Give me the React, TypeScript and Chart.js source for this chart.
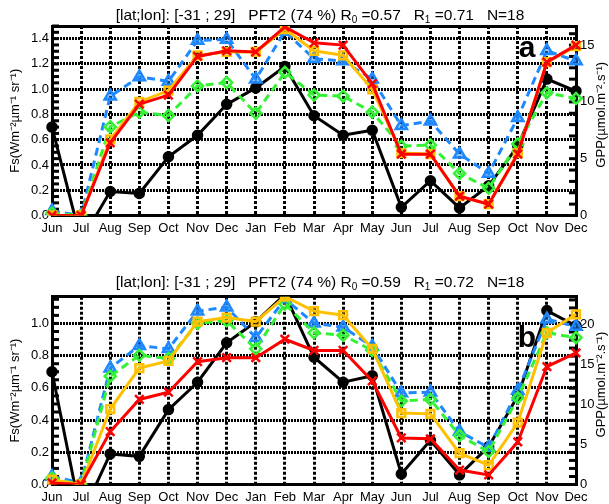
import React, { useEffect, useRef } from "react";
import { Chart, registerables } from "chart.js";

Chart.register(...registerables);

const FONT = "'Liberation Sans', Arial, Helvetica, sans-serif";
Chart.defaults.font.family = FONT;
Chart.defaults.color = "#000";

// ---------- data ----------
const months = ["Jun", "Jul", "Aug", "Sep", "Oct", "Nov", "Dec", "Jan", "Feb", "Mar", "Apr", "May", "Jun", "Jul", "Aug", "Sep", "Oct", "Nov", "Dec"];

// observed Fs (left axis), same in both panels
const fsObserved = [0.70, -0.20, 0.19, 0.175, 0.465, 0.635, 0.88, 1.01, 1.18, 0.79, 0.635, 0.675, 0.065, 0.275, 0.06, 0.235, 0.55, 1.08, 0.985];

// panel a, GPP (right axis)
const statsA = ["0.57", "0.71"];
const gppBlueA = [0.4, 0.0, 10.5, 12.2, 11.8, 15.4, 15.5, 12.0, 16.2, 13.8, 13.6, 12.0, 7.9, 8.3, 5.4, 3.7, 8.6, 14.5, 13.6];
const gppGreenA = [0.2, 0.0, 7.8, 9.1, 8.8, 11.4, 11.7, 9.0, 12.6, 10.6, 10.5, 9.1, 6.1, 6.2, 3.7, 2.4, 6.3, 10.8, 10.3];
const gppOrangeA = [0.0, 0.0, 6.7, 10.0, 11.0, 14.1, 14.4, 14.4, 16.4, 14.5, 14.1, 11.1, 5.5, 5.4, 1.7, 1.0, 5.5, 13.5, 14.9];
const gppRedA = [0.0, 0.0, 6.4, 9.8, 10.6, 14.0, 14.5, 14.4, 16.6, 15.2, 15.0, 11.6, 5.4, 5.4, 1.7, 1.0, 5.4, 13.5, 15.0];

// panel b, GPP (right axis)
const statsB = ["0.59", "0.72"];
const gppBlueB = [1.0, 0.2, 14.5, 17.3, 16.9, 21.6, 22.1, 18.3, 23.1, 20.1, 19.6, 17.2, 11.4, 11.5, 6.6, 4.6, 11.7, 20.6, 19.7];
const gppGreenB = [0.8, 0.0, 13.5, 16.1, 15.7, 20.1, 20.4, 16.9, 22.5, 18.9, 18.6, 16.7, 10.4, 10.6, 6.1, 4.1, 10.8, 18.9, 18.3];
const gppOrangeB = [0.6, 0.0, 9.4, 14.5, 15.4, 20.3, 20.8, 20.3, 23.4, 21.6, 21.1, 16.9, 8.9, 8.8, 3.9, 2.4, 7.7, 18.9, 21.2];
const gppRedB = [0.2, 0.0, 6.6, 10.6, 11.5, 15.3, 15.8, 15.8, 18.1, 16.7, 16.7, 12.9, 5.8, 5.7, 1.8, 1.2, 5.3, 14.7, 16.4];

const leftTitle = "Fs(Wm\u207B\u00B2\u00B5m\u207B\u00B9 sr\u207B\u00B9)";
const rightTitle = "GPP(\u00B5mol.m\u207B\u00B2.s\u207B\u00B9)";

// ---------- styling ----------
const BLACK = "#000000";
const BLUE = "#1E88FF";
const GREEN = "#33F233";
const ORANGE = "#FFC000";
const RED = "#FF0000";

const CANVAS_W = 609;
const CANVAS_H = 252;

// title pieces: [text, isSubscript]
function titleParts(stats: string[]): [string, boolean][] {
  return [
    ["[lat;lon]: [-31 ; 29]   PFT2 (74 %) R", false],
    ["0", true],
    [" =" + stats[0] + "   R", false],
    ["1", true],
    [" =" + stats[1] + "   N=18", false],
  ];
}

const decorPlugin = {
  id: "decor",
  beforeDatasetsDraw(chart: any, _a: any, opts: any) {
    const { ctx, chartArea: ca, scales } = chart;
    ctx.save();
    ctx.strokeStyle = "#000";
    ctx.lineWidth = 3;
    const y = scales.y;
    for (let v = 0; v <= y.max + 1e-9; v += opts.leftMinor) {
      const py = y.getPixelForValue(v);
      ctx.beginPath();
      ctx.moveTo(ca.left, py);
      ctx.lineTo(ca.left + 7, py);
      ctx.stroke();
    }
    const y1 = scales.y1;
    for (let v = 0; v <= y1.max + 1e-9; v += opts.rightMinor) {
      const py = y1.getPixelForValue(v);
      ctx.beginPath();
      ctx.moveTo(ca.right, py);
      ctx.lineTo(ca.right - 7, py);
      ctx.stroke();
    }
    ctx.restore();
  },
  afterDraw(chart: any, _a: any, opts: any) {
    const { ctx, chartArea: ca } = chart;
    ctx.save();
    ctx.fillStyle = "#000";
    // panel letter
    ctx.font = `bold 30px ${FONT}`;
    ctx.textAlign = "center";
    ctx.textBaseline = "alphabetic";
    ctx.fillText(opts.letter, ca.right - 49, ca.top + opts.letterDy);
    // title with subscripts
    const parts: [string, boolean][] = opts.titleParts;
    const big = `15.5px ${FONT}`;
    const small = `10px ${FONT}`;
    let total = 0;
    for (const [t, sub] of parts) {
      ctx.font = sub ? small : big;
      total += ctx.measureText(t).width;
    }
    let x = (ca.left + ca.right) / 2 - total / 2 + 6;
    ctx.textAlign = "left";
    for (const [t, sub] of parts) {
      ctx.font = sub ? small : big;
      ctx.fillText(t, x, opts.titleBase + (sub ? 3 : 0));
      x += ctx.measureText(t).width;
    }
    // right axis title
    ctx.font = `13px ${FONT}`;
    ctx.textAlign = "center";
    ctx.textBaseline = "middle";
    ctx.translate(601, (ca.top + ca.bottom) / 2 - 6);
    ctx.rotate(-Math.PI / 2);
    ctx.fillText(rightTitle, 0, 0);
    ctx.restore();
  },
};

function lineDs(label: string, data: number[], color: string, yAxisID: string, pointStyle: string, radius: number, dashed: boolean, fill: string) {
  return {
    label,
    data,
    yAxisID,
    borderColor: color,
    backgroundColor: fill,
    pointBackgroundColor: fill,
    pointBorderColor: color,
    borderWidth: 3,
    pointBorderWidth: 2.5,
    pointStyle,
    pointRadius: radius,
    borderDash: dashed ? [8, 5] : [],
    tension: 0,
    fill: false,
  };
}

interface PanelSpec {
  stats: string[];
  letter: string;
  leftMax: number;
  rightMax: number;
  top: number;
  bottom: number;
  titleBase: number;
  letterDy: number;
  blue: number[];
  green: number[];
  orange: number[];
  red: number[];
}

function buildConfig(p: PanelSpec): any {
  return {
    type: "line",
    data: {
      labels: months,
      datasets: [
        lineDs("red", p.red, RED, "y1", "crossRot", 6, false, RED),
        lineDs("orange", p.orange, ORANGE, "y1", "rect", 5.5, false, "rgba(255,192,0,0.15)"),
        lineDs("green", p.green, GREEN, "y1", "rectRot", 5.5, true, "rgba(51,242,51,0.15)"),
        lineDs("blue", p.blue, BLUE, "y1", "triangle", 6.5, true, "rgba(30,136,255,0.5)"),
        lineDs("fs", fsObserved, BLACK, "y", "circle", 4.5, false, BLACK),
      ],
    },
    options: {
      responsive: false,
      animation: false,
      events: [],
      layout: { padding: { top: p.top, left: 0, right: 0, bottom: 0 } },
      plugins: {
        legend: { display: false },
        tooltip: { enabled: false },
        title: { display: false },
        decor: {
          leftMinor: 0.05,
          rightMinor: 1,
          letter: p.letter,
          letterDy: p.letterDy,
          titleParts: titleParts(p.stats),
          titleBase: p.titleBase,
        },
      },
      scales: {
        x: {
          type: "category",
          position: "bottom",
          offset: false,
          grid: { color: "#000", lineWidth: 3, drawTicks: false },
          border: { display: true, width: 3, color: "#000", dash: [3, 2] },
          ticks: { color: "#000", font: { size: 13 }, padding: 5, autoSkip: false, maxRotation: 0 },
          afterFit: (s: any) => { s.height = CANVAS_H - p.bottom; },
        },
        xTop: {
          type: "linear",
          position: "top",
          min: 0,
          max: 1,
          grid: { display: false, drawTicks: false },
          ticks: { display: false },
          border: { display: true, width: 3, color: "#000" },
          afterFit: (s: any) => { s.height = 0; },
        },
        y: {
          type: "linear",
          position: "left",
          min: 0,
          max: p.leftMax,
          grid: { color: "#000", lineWidth: 3, drawTicks: false },
          border: { display: true, width: 3, color: "#000", dash: [2, 1] },
          ticks: {
            stepSize: 0.2,
            includeBounds: false,
            color: "#000",
            font: { size: 13 },
            padding: 3,
            callback: (v: number) => v.toFixed(1),
          },
          title: { display: true, text: leftTitle, color: "#000", font: { size: 13 }, padding: { top: 8, bottom: 0 } },
          afterFit: (s: any) => { s.width = 52; },
        },
        y1: {
          type: "linear",
          position: "right",
          min: 0,
          max: p.rightMax,
          grid: { drawOnChartArea: false, drawTicks: false },
          border: { display: true, width: 3, color: "#000" },
          ticks: {
            stepSize: 5,
            includeBounds: false,
            color: "#000",
            font: { size: 13 },
            padding: 4,
            callback: (v: number) => String(v),
          },
          afterFit: (s: any) => { s.width = CANVAS_W - 576; },
        },
      },
    },
    plugins: [decorPlugin],
  };
}

const specA: PanelSpec = {
  stats: statsA, letter: "a", leftMax: 1.5, rightMax: 16.68, top: 26, bottom: 215.5, titleBase: 20, letterDy: 31,
  blue: gppBlueA, green: gppGreenA, orange: gppOrangeA, red: gppRedA,
};
const specB: PanelSpec = {
  stats: statsB, letter: "b", leftMax: 1.166, rightMax: 23.4, top: 44.7, bottom: 232.5, titleBase: 35, letterDy: 50,
  blue: gppBlueB, green: gppGreenB, orange: gppOrangeB, red: gppRedB,
};

function Panel({ spec, top }: { spec: PanelSpec; top: number }) {
  const ref = useRef<HTMLCanvasElement>(null);
  useEffect(() => {
    if (!ref.current) return;
    const chart = new Chart(ref.current, buildConfig(spec));
    return () => chart.destroy();
  }, [spec]);
  return (
    <canvas
      ref={ref}
      width={CANVAS_W}
      height={CANVAS_H}
      style={{ position: "absolute", left: 0, top, width: CANVAS_W, height: CANVAS_H }}
    />
  );
}

export default function App() {
  return (
    <div style={{ position: "fixed", left: 0, top: 0, width: 609, height: 504, background: "#fff" }}>
      <Panel spec={specA} top={0} />
      <Panel spec={specB} top={252} />
    </div>
  );
}
